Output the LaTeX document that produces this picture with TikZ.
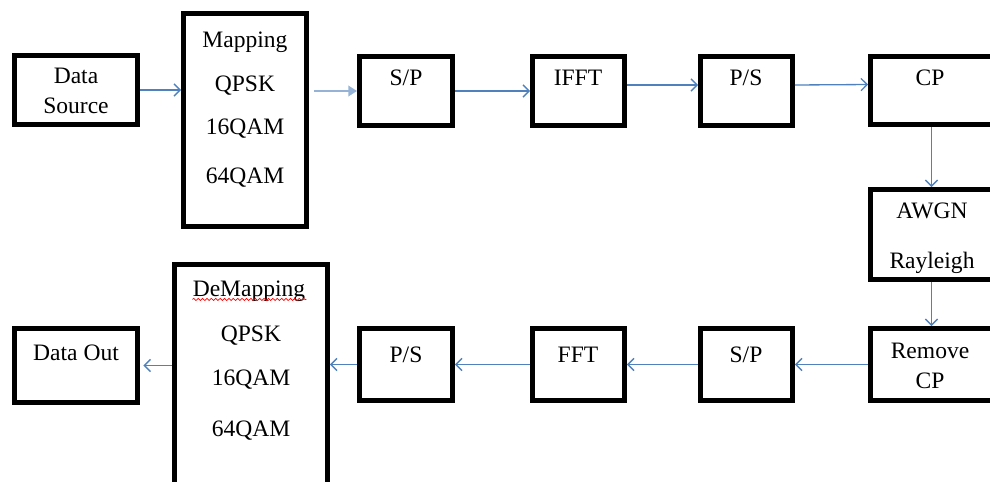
\documentclass[tikz,border=0pt]{standalone}
\usepackage{fontspec}
\setmainfont{Liberation Serif}
\usetikzlibrary{arrows.meta,decorations.pathmorphing}
\definecolor{wordblue}{RGB}{79,129,189}
\definecolor{paleblue}{RGB}{149,179,215}

\begin{document}
\begin{tikzpicture}[x=0.02cm,y=-0.02cm,
	blk/.style={draw, line width=2.8pt, inner sep=0pt},
	arr/.style={draw=wordblue, line width=0.75pt, -{Straight Barb[length=3.5pt,width=7pt]}},
	lbl/.style={anchor=base, inner sep=0pt, font=\fontsize{13.4}{15}\selectfont}]
		\useasboundingbox (0,0) rectangle (990,481);
		\clip (0,0) rectangle (990,481);

		% transmitter row
		\node[blk, minimum width=2.46cm, minimum height=1.38cm] (src) at (76,90) {};
		\node[blk, minimum width=2.46cm, minimum height=4.26cm] (map) at (245,120) {};
		\node[blk, minimum width=1.86cm, minimum height=1.38cm] (sp1) at (406,91) {};
		\node[blk, minimum width=1.84cm, minimum height=1.38cm] (ifft) at (578.5,91) {};
		\node[blk, minimum width=1.84cm, minimum height=1.38cm] (ps1) at (746.5,91) {};
		\node[blk, minimum width=2.44cm, minimum height=1.36cm] (cp) at (931.5,90.5) {};

		% channel
		\node[blk, minimum width=2.44cm, minimum height=1.80cm] (awgn) at (931.5,234.5) {};

		% receiver row
		\node[blk, minimum width=2.44cm, minimum height=1.44cm] (rcp) at (931.5,364.5) {};
		\node[blk, minimum width=1.84cm, minimum height=1.44cm] (sp2) at (746.5,364.5) {};
		\node[blk, minimum width=1.84cm, minimum height=1.44cm] (fft) at (578.5,364.5) {};
		\node[blk, minimum width=1.86cm, minimum height=1.44cm] (ps2) at (406,364.5) {};
		\node[blk, minimum width=3.06cm, minimum height=4.46cm] (demap) at (251,376) {};
		\node[blk, minimum width=2.46cm, minimum height=1.48cm] (out) at (76,365.5) {};

		% labels
		\node[lbl] (t-data) at (76,83) {Data};
		\node[lbl] (t-source) at (76,113) {Source};
		\node[lbl] (t-map) at (245,47) {Mapping};
		\node[lbl] (t-qpsk1) at (245,91) {QPSK};
		\node[lbl] (t-16qam1) at (245,134) {16QAM};
		\node[lbl] (t-64qam1) at (245,183) {64QAM};
		\node[lbl] (t-sp1) at (406,85) {S/P};
		\node[lbl] (t-ifft) at (578,85) {IFFT};
		\node[lbl] (t-ps1) at (746,85) {P/S};
		\node[lbl] (t-cp) at (930,85) {CP};
		\node[lbl] (t-awgn) at (932,218) {AWGN};
		\node[lbl] (t-ray) at (932,268) {Rayleigh};
		\node[lbl] (t-remove) at (930,358) {Remove};
		\node[lbl] (t-rcp) at (930,388) {CP};
		\node[lbl] (t-sp2) at (746,362) {S/P};
		\node[lbl] (t-fft) at (578,362) {FFT};
		\node[lbl] (t-ps2) at (406,362) {P/S};
		\node[lbl] (t-demap) at (249,296) {DeMapping};
		\draw[red, line width=0.4pt, decorate, decoration={snake, amplitude=0.6pt, segment length=2.5pt}]
			(t-demap.south west) ++(0,-2) -- ++(114,0);
		\node[lbl] (t-qpsk2) at (251,341) {QPSK};
		\node[lbl] (t-16qam2) at (251,385) {16QAM};
		\node[lbl] (t-64qam2) at (251,436) {64QAM};
		\node[lbl] (t-out) at (76,360) {Data Out};

		% connections
		\draw[arr] (src.east) -- (src.east -| map.west);
		\draw[draw=paleblue, line width=1.2pt, -{Triangle[length=5pt,width=6pt]}, shorten <=3pt]
			(map.east |- sp1.west) -- (sp1.west);
		\draw[arr] (sp1.east) -- (ifft.west);
		\draw[arr] ([yshift=0.12cm]ifft.east) -- ([yshift=0.12cm]ps1.west);
		\draw[arr] ([yshift=0.12cm]ps1.east) -- ([yshift=0.12cm]cp.west);
		\draw[arr] (cp.south) -- (awgn.north);
		\draw[arr] (awgn.south) -- (rcp.north);
		\draw[arr] (rcp.west) -- (sp2.east);
		\draw[arr] (sp2.west) -- (fft.east);
		\draw[arr] (fft.west) -- (ps2.east);
		\draw[arr] (ps2.west) -- (ps2.west -| demap.east);
		\draw[arr, shorten >=2pt] (out.east -| demap.west) -- (out.east);
	\end{tikzpicture}
\end{document}
